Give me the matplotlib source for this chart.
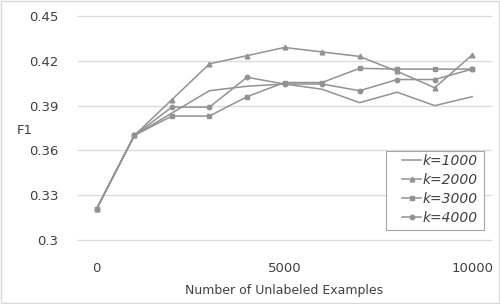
import matplotlib.pyplot as plt
from matplotlib.patches import Rectangle

plt.rcParams['font.family'] = ['DejaVu Sans']

examples = [0, 1000, 2000, 3000, 4000, 5000, 6000, 7000, 8000, 9000, 10000]
k1000 = [0.321, 0.370, 0.385, 0.400, 0.403, 0.4045, 0.401, 0.392, 0.399, 0.390, 0.396]
k2000 = [0.321, 0.370, 0.394, 0.418, 0.4235, 0.429, 0.426, 0.423, 0.413, 0.402, 0.424]
k3000 = [0.321, 0.370, 0.383, 0.383, 0.396, 0.4055, 0.4055, 0.415, 0.4145, 0.4145, 0.4145]
k4000 = [0.321, 0.370, 0.389, 0.389, 0.409, 0.4045, 0.4045, 0.400, 0.4075, 0.4075, 0.4145]

line_color = '#929292'

fig = plt.figure(figsize=(5, 3.04), dpi=100)
ax = fig.add_axes([78 / 500, 1 - 240 / 304, 413 / 500, 224 / 304])

ax.plot(examples, k1000, color=line_color, linewidth=1.1, label='k=1000')
ax.plot(examples, k2000, color=line_color, linewidth=1.1, marker='^', markersize=3.4, label='k=2000')
ax.plot(examples, k3000, color=line_color, linewidth=1.1, marker='s', markersize=3.2, label='k=3000')
ax.plot(examples, k4000, color=line_color, linewidth=1.1, marker='o', markersize=3.2, label='k=4000')

ax.set_xlim(-500, 10500)
ax.set_ylim(0.2999, 0.4501)
ax.set_xticks([0, 5000, 10000])
ax.set_yticks([0.3, 0.33, 0.36, 0.39, 0.42, 0.45])
ax.set_yticklabels(['0.3', '0.33', '0.36', '0.39', '0.42', '0.45'])
ax.tick_params(length=0, labelsize=9.5, colors='#404040')
ax.tick_params(axis='y', pad=14)
ax.tick_params(axis='x', pad=16)
ax.grid(axis='y', color='#dcdcdc', linewidth=1)
for gl in ax.get_ygridlines():
    gl.set_clip_on(False)
ax.set_axisbelow(True)
for s in ax.spines.values():
    s.set_visible(False)

ax.set_xlabel('Number of Unlabeled Examples', fontsize=9, color='#404040', labelpad=6)
ax.set_ylabel('F1', fontsize=9.5, color='#404040', rotation=0, labelpad=10)
ax.yaxis.set_label_coords(-0.13, 0.46)

leg = ax.legend(loc='lower right', bbox_to_anchor=(0.978, 0.05), prop={'style': 'italic', 'size': 10},
                frameon=False, handlelength=1.3, handletextpad=0.15,
                labelspacing=0.35, borderpad=0.3, borderaxespad=0, labelcolor='#404040')

# legend box drawn by hand, it is wider than the entries
box = Rectangle((386 / 500, 1 - 230 / 304), 98 / 500, 79 / 304, transform=fig.transFigure,
                facecolor='white', edgecolor='#a6a6a6', linewidth=0.8, zorder=4, clip_on=False)
ax.add_patch(box)

fig.patches.append(Rectangle((0.002, 0.003), 0.995, 0.993, transform=fig.transFigure,
                             fill=False, edgecolor='#d9d9d9', linewidth=1))

fig.savefig('out.png', dpi=100)
